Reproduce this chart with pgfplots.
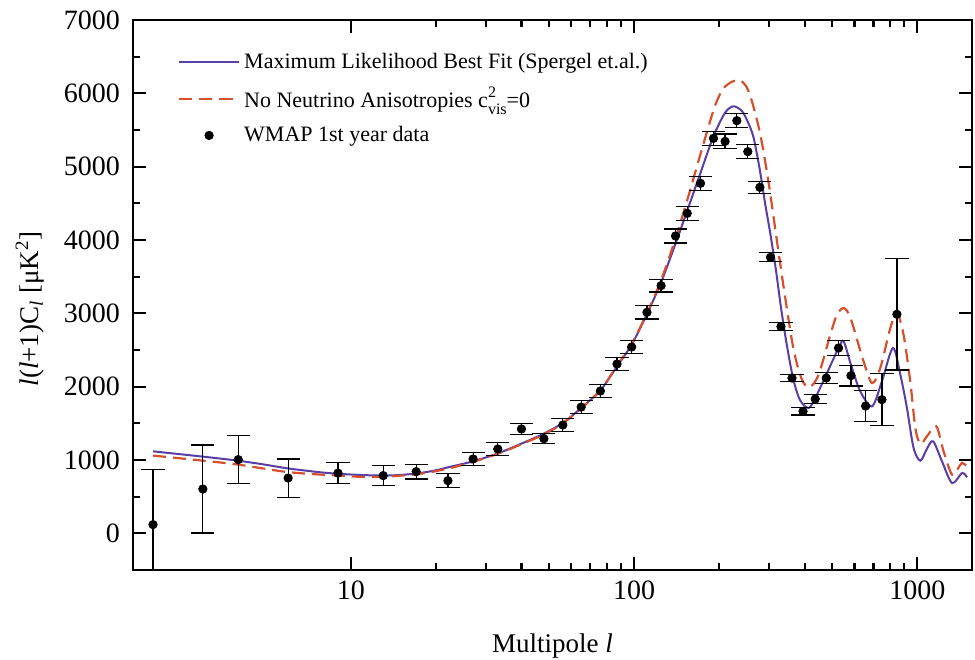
\documentclass[border=0pt]{standalone}
\usepackage{fontspec}
\setmainfont{Liberation Serif}
\usepackage{pgfplots}
\pgfplotsset{compat=1.18}
\definecolor{bfblue}{RGB}{88,62,165}
\definecolor{nnred}{RGB}{214,80,46}
\begin{document}
\begin{tikzpicture}
\begin{axis}[
  scale only axis, width=419.5pt, height=275pt,
  xmode=log, xmin=1.7, xmax=1560,
  ymin=-500, ymax=7000,
  ytick={0,1000,...,7000}, minor y tick num=1,
  xtick={10,100,1000}, xticklabels={10,100,1000},
  tick align=inside,
  major tick length=6.5pt, minor tick length=3.5pt,
  every tick/.style={black, line width=1.1pt},
  axis line style={line width=1.2pt},
  ticklabel style={font=\fontsize{14}{16}\selectfont},
  /pgf/number format/assume math mode=true,
  /pgf/number format/1000 sep={},
  scaled y ticks=false,
  yticklabel style={xshift=-3pt},
  xticklabel style={yshift=-2pt},
  xlabel={Multipole \textit{l}},
  ylabel={\textit{l}(\textit{l}+1)C\textsubscript{\textit{l}} [μK\textsuperscript{2}]},
  label style={font=\fontsize{13.5}{16}\selectfont},
  xlabel style={at={(axis description cs:0.5,0)}, anchor=base, yshift=-41.5pt},
  ylabel style={at={(axis description cs:-0.1228,0.475)}, anchor=center},
  legend style={draw=none, fill=none, at={(axis description cs:0.046,0.955)}, anchor=north west,
    font=\fontsize{11}{13}\selectfont, row sep=3.8pt},
  legend cell align=left,
  legend image code/.code={\draw[mark repeat=2,mark phase=2,#1] plot coordinates {(0pt,0pt) (15pt,0pt) (30pt,0pt)};},
]
\addplot[bfblue, line width=1pt, smooth] coordinates {
(2,1118) (3,1046) (4,990) (5,935) (6,885) (8,828) (10,802) (12,790) (14,790) (17,815) (20,860) (22,900) (27,982) (33,1090) (40,1223) (48,1360) (56,1505) (65,1709) (76,1950) (87,2277) (98,2573) (111,2990) (125,3440) (140,3950) (154,4400) (171,4900) (190,5400) (209,5730) (224,5823) (240,5760) (252,5610) (264,5400) (278,4950) (290,4500) (303,4073) (317,3580) (330,3080) (345,2600) (364,2118) (385,1820) (413,1709) (436,1845) (477,2164) (527,2527) (549,2618) (583,2300) (629,1936) (692,1732) (750,2073) (820,2527) (871,2164) (919,1709) (970,1164) (1025,991) (1080,1150) (1137,1255) (1222,982) (1326,686) (1439,822) (1498,764)
};
\addlegendentry{Maximum Likelihood Best Fit (Spergel et.al.)}
\addplot[nnred, line width=1.1pt, dash pattern=on 6.5pt off 3.5pt, smooth] coordinates {
(2,1060) (3,991) (4,937) (6,835) (9,787) (12,768) (17,805) (22,882) (27,975) (33,1085) (40,1215) (48,1350) (56,1500) (65,1705) (76,1950) (87,2285) (98,2585) (111,3000) (125,3470) (140,4020) (155,4580) (166,4982) (180,5450) (193,5830) (206,6060) (222,6160) (237,6175) (250,6080) (262,5860) (279,5437) (298,4800) (319,4000) (342,3200) (366,2500) (391,2100) (416,1991) (448,2164) (493,2709) (520,2980) (549,3073) (575,2980) (596,2800) (646,2345) (692,2050) (740,2254) (803,2800) (847,3004) (894,2709) (944,2073) (984,1436) (1025,1218) (1080,1320) (1167,1459) (1238,1118) (1326,800) (1400,900) (1439,960) (1498,914)
};
\addlegendentry{No Neutrino Anisotropies c\rlap{\raisebox{1.0ex}{\fontsize{8}{9}\selectfont 2}}\raisebox{-0.7ex}{\fontsize{8}{9}\selectfont vis}=0}
\addplot[only marks, mark=*, mark size=2.1pt, black,
  error bars/.cd, y dir=both, y explicit,
  error bar style={line width=0.6pt, black},
  error mark options={rotate=90, mark size=5.8pt, line width=0.6pt, black}]
  table[x=l, y=v, y error=e] {
l v e
2 119 750
3 604 600
4 1005 330
6 754 260
9 822 145
13 787 140
17 841 100
22 718 95
27 1014 90
33 1150 88
40 1423 72
48 1291 70
56 1477 88
65 1722 84
76 1941 90
87 2309 90
98 2541 90
111 3014 90
124.5 3378 87
140 4055 95
154 4364 95
171.5 4773 97
190.6 5386 98
209.5 5345 100
230.5 5627 95
252 5205 93
278 4718 80
303 3764 62
330 2819 55
361 2118 45
395 1664 50
436 1832 65
477 2118 73
527 2527 100
583 2150 140
657 1736 210
750 1823 355
847 2987 760
};
\addlegendentry{WMAP 1st year data}
\end{axis}
\pgfresetboundingbox
\path[use as bounding box] ([xshift=-66.5pt,yshift=-45pt]current axis.south west) rectangle ([xshift=1.5pt,yshift=10pt]current axis.north east);
\end{tikzpicture}
\end{document}
